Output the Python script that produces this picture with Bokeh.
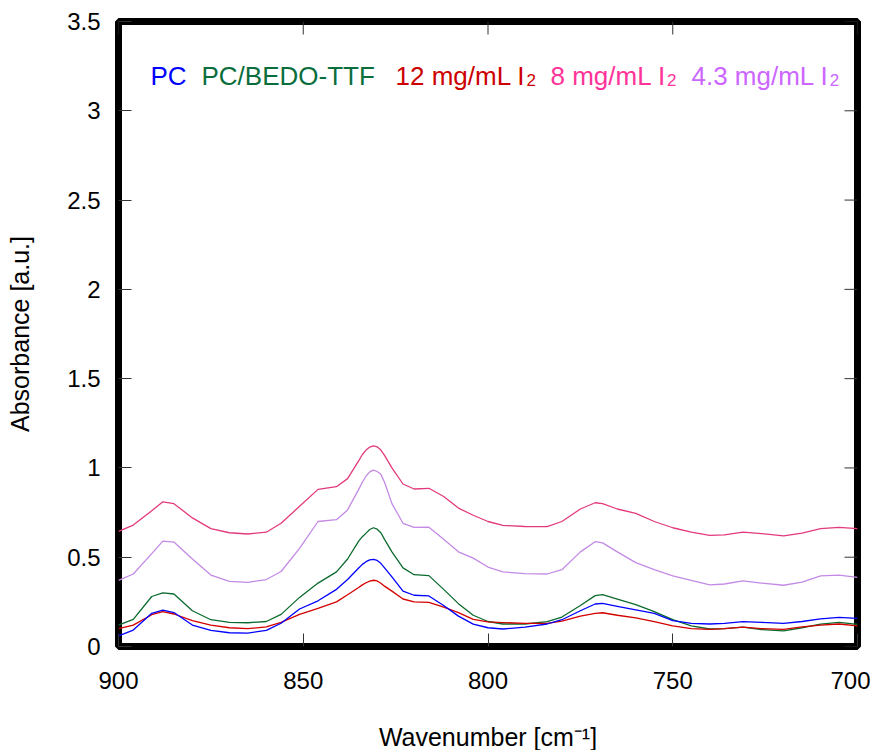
from bokeh.plotting import figure
from bokeh.models import Range1d, FixedTicker, Label, NumeralTickFormatter
from bokeh.embed import file_html
from bokeh.resources import INLINE

# ---------------- data ----------------
wavenumber = [900, 896, 891, 888, 885, 880, 875, 870, 865, 860, 856, 851, 846, 841, 838,
              835, 834, 833, 832, 831, 830, 829, 828, 826, 823, 820, 816, 812, 808, 804,
              800, 796, 790, 784, 780, 775, 771, 769, 765, 760, 755, 750, 745, 740, 736,
              731, 726, 720, 715, 710, 705, 700]

pc = [0.06, 0.092, 0.186, 0.204, 0.19, 0.12, 0.09, 0.077, 0.075, 0.09, 0.13, 0.21, 0.256,
      0.32, 0.375, 0.44, 0.46, 0.475, 0.485, 0.488, 0.482, 0.466, 0.44, 0.39, 0.31, 0.287,
      0.283, 0.23, 0.17, 0.125, 0.105, 0.098, 0.108, 0.126, 0.15, 0.2, 0.238, 0.242, 0.225,
      0.205, 0.186, 0.145, 0.13, 0.126, 0.13, 0.139, 0.135, 0.13, 0.14, 0.155, 0.163, 0.158]

pc_bedo = [0.12, 0.152, 0.28, 0.30, 0.294, 0.20, 0.15, 0.135, 0.133, 0.14, 0.18, 0.275, 0.355,
           0.418, 0.49, 0.59, 0.615, 0.635, 0.655, 0.665, 0.657, 0.637, 0.60, 0.53, 0.44,
           0.402, 0.397, 0.32, 0.24, 0.175, 0.14, 0.126, 0.126, 0.139, 0.165, 0.23, 0.285,
           0.29, 0.265, 0.235, 0.195, 0.15, 0.115, 0.098, 0.10, 0.108, 0.095, 0.088, 0.105,
           0.125, 0.135, 0.124]

i2_12 = [0.10, 0.12, 0.178, 0.195, 0.182, 0.145, 0.12, 0.105, 0.10, 0.11, 0.135, 0.18, 0.214,
         0.25, 0.29, 0.33, 0.345, 0.357, 0.366, 0.371, 0.367, 0.354, 0.338, 0.31, 0.266, 0.25,
         0.247, 0.22, 0.19, 0.152, 0.138, 0.134, 0.13, 0.13, 0.142, 0.17, 0.186, 0.189, 0.175,
         0.16, 0.139, 0.115, 0.10, 0.096, 0.10, 0.108, 0.10, 0.096, 0.11, 0.12, 0.126, 0.115]

i2_8 = [0.645, 0.68, 0.76, 0.81, 0.80, 0.72, 0.66, 0.637, 0.63, 0.64, 0.69, 0.785, 0.88,
        0.895, 0.94, 1.04, 1.075, 1.10, 1.117, 1.124, 1.118, 1.10, 1.07, 1.00, 0.91, 0.882,
        0.886, 0.84, 0.775, 0.735, 0.70, 0.678, 0.672, 0.671, 0.70, 0.77, 0.805, 0.80, 0.77,
        0.745, 0.70, 0.665, 0.64, 0.622, 0.625, 0.64, 0.632, 0.62, 0.635, 0.66, 0.667, 0.66]

i2_43 = [0.37, 0.406, 0.52, 0.59, 0.585, 0.49, 0.40, 0.365, 0.359, 0.375, 0.42, 0.55, 0.70,
         0.71, 0.765, 0.88, 0.92, 0.955, 0.978, 0.988, 0.98, 0.964, 0.92, 0.80, 0.69, 0.667,
         0.668, 0.60, 0.53, 0.495, 0.445, 0.418, 0.408, 0.406, 0.43, 0.53, 0.587, 0.58, 0.53,
         0.47, 0.43, 0.395, 0.37, 0.345, 0.35, 0.367, 0.355, 0.343, 0.36, 0.395, 0.40, 0.387]

x_ticks = [900, 850, 800, 750, 700]
y_ticks = [0, 0.5, 1, 1.5, 2, 2.5, 3, 3.5]
X_START, X_END = 900, 700
Y_START, Y_END = 0, 3.5

FONT = "Liberation Sans"
TICK_COLOR = "#333333"

# ---------------- figure ----------------
p = figure(frame_width=739, frame_height=625,
           min_border_left=118, min_border_right=13, min_border_top=21, min_border_bottom=104,
           x_range=Range1d(X_START, X_END), y_range=Range1d(Y_START, Y_END),
           output_backend="svg", toolbar_location=None,
           background_fill_color="white", border_fill_color="white")
p.xgrid.visible = False
p.ygrid.visible = False
p.outline_line_color = "black"
p.outline_line_width = 7


def style(ax, ticks):
    ax.ticker = FixedTicker(ticks=ticks)
    ax.axis_line_color = None
    ax.major_tick_in = 13
    ax.major_tick_out = 0
    ax.major_tick_line_color = TICK_COLOR
    ax.major_tick_line_width = 1
    ax.minor_tick_line_color = None
    ax.major_label_text_font = FONT
    ax.major_label_text_color = "black"
    ax.axis_label_text_font = FONT
    ax.axis_label_text_font_size = "25px"
    ax.axis_label_text_font_style = "normal"
    ax.axis_label_text_color = "black"


xa = p.xaxis[0]
style(xa, x_ticks)
xa.major_label_text_font_size = "24px"
xa.major_label_standoff = 25
xa.axis_label = "Wavenumber [cm\u207b\u00b9]"
xa.axis_label_standoff = 31

ya = p.yaxis[0]
style(ya, y_ticks)
ya.major_label_text_font_size = "24px"
ya.major_label_standoff = 18
ya.formatter = NumeralTickFormatter(format="0.[0]")
ya.axis_label = "Absorbance [a.u.]"
ya.axis_label_standoff = 30

# mirrored ticks on top and right edges
p.ray(x=x_ticks, y=[Y_END] * len(x_ticks), length=13, length_units="screen",
      angle=-90, angle_units="deg", line_color=TICK_COLOR, line_width=1)
p.ray(x=[X_END] * len(y_ticks), y=y_ticks, length=13, length_units="screen",
      angle=180, angle_units="deg", line_color=TICK_COLOR, line_width=1)

# ---------------- lines ----------------
series = [
    (i2_8, "#e23a7c"),
    (i2_43, "#c38ae6"),
    (pc_bedo, "#0b6b2e"),
    (i2_12, "#d40000"),
    (pc, "#0000ff"),
]
for ys, c in series:
    p.line(wavenumber, ys, line_color=c, line_width=1.3, line_join="round")

# ---------------- legend (coloured texts) ----------------
legend_items = [
    ("PC", None, "#0000ff", 32),
    ("PC/BEDO-TTF", None, "#0a6e3c", 83),
    ("12 mg/mL I", "2", "#cc0000", 277),
    ("8 mg/mL I", "2", "#ff3399", 432),
    ("4.3 mg/mL I", "2", "#cc66ff", 573),
]
widths = {"12 mg/mL I": 130.1, "8 mg/mL I": 115.6, "4.3 mg/mL I": 137.3}
for txt, sub, col, off in legend_items:
    p.add_layout(Label(x=X_START, y=3.194, x_offset=off, text=txt, text_color=col,
                       text_font=FONT, text_font_size="26px",
                       text_baseline="alphabetic", text_align="left"))
    if sub:
        p.add_layout(Label(x=X_START, y=3.172, x_offset=off + widths[txt] + 1, text=sub,
                           text_color=col, text_font=FONT, text_font_size="17px",
                           text_baseline="alphabetic", text_align="left"))

open("out.html", "w").write(file_html(p, INLINE))
